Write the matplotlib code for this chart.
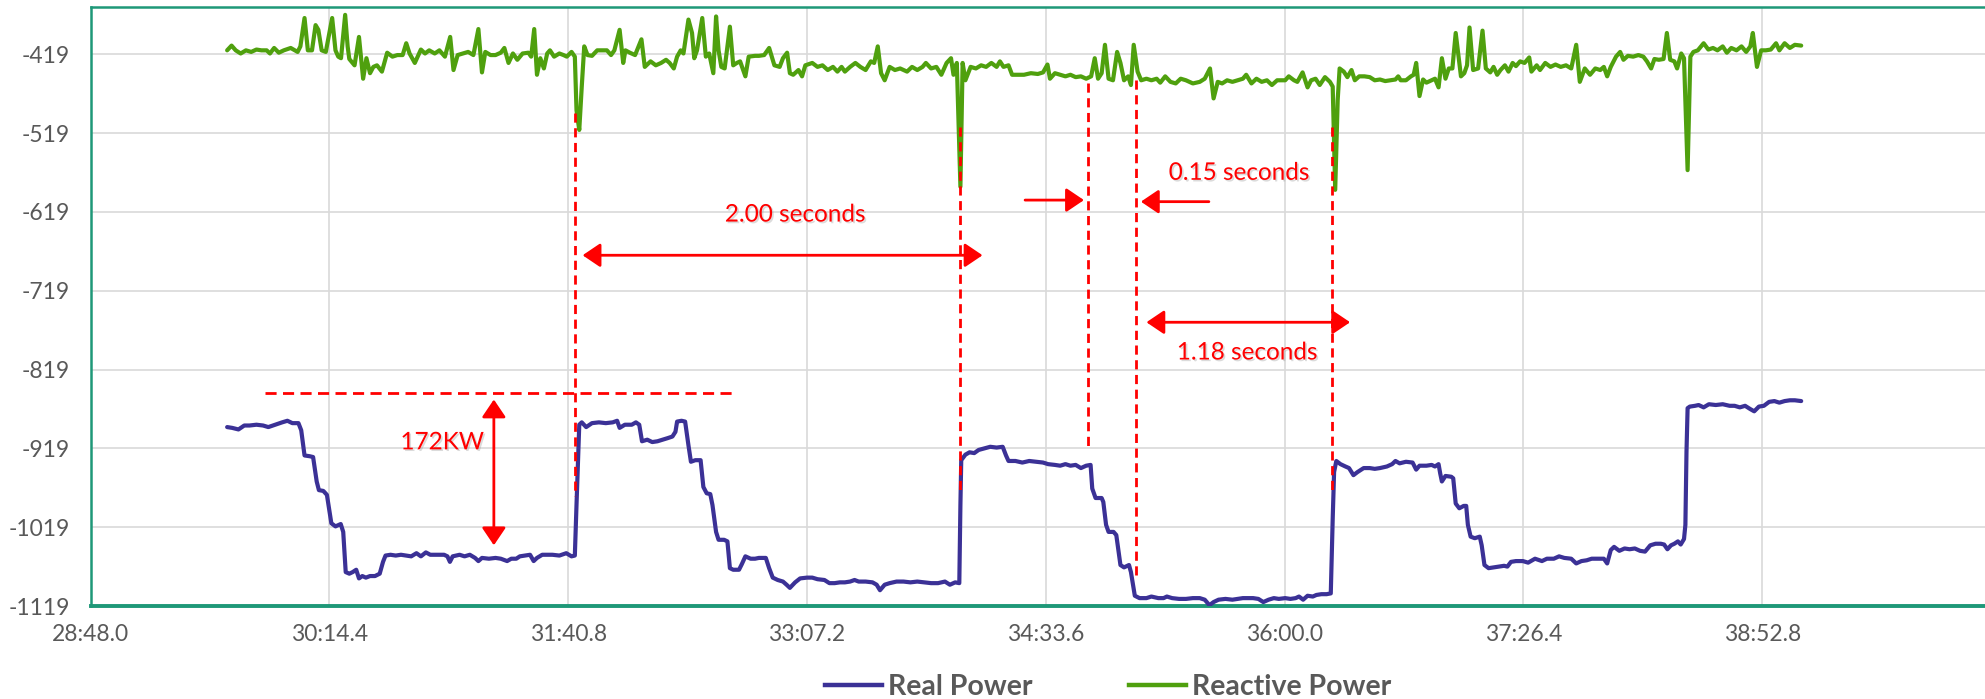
import matplotlib.pyplot as plt
import matplotlib.patheffects as pe
from matplotlib.lines import Line2D

plt.rcParams['font.family'] = ['Lato', 'DejaVu Sans']

# time in seconds (28:48.0 = 1728 s), power in kW / kVAr
real_power = [
    (1777.4, -892), (1779.2, -893), (1781.5, -895), (1783.6, -890), (1785.5, -890), (1788.0, -889), (1790.4, -890), (1792.3, -892), (1794.8, -889), (1797.3, -886),
    (1799.2, -884), (1801.0, -887), (1803.2, -887), (1804.2, -896), (1805.4, -928), (1807.3, -929), (1808.5, -930), (1809.8, -961), (1810.6, -972), (1812.2, -973),
    (1813.5, -978), (1815.1, -1014), (1816.6, -1018), (1818.5, -1015), (1819.4, -1025), (1820.3, -1076), (1821.6, -1078), (1822.8, -1076), (1824.1, -1073), (1825.1, -1084),
    (1826.3, -1081), (1827.6, -1083), (1829.1, -1081), (1830.9, -1081), (1832.6, -1078), (1833.8, -1063), (1834.7, -1055), (1836.5, -1054), (1838.4, -1055), (1840.3, -1054),
    (1842.2, -1055), (1844.0, -1056), (1845.9, -1052), (1847.5, -1056), (1849.3, -1051), (1850.9, -1054), (1853.4, -1054), (1855.9, -1054), (1857.1, -1056), (1858.0, -1063),
    (1859.0, -1056), (1861.5, -1054), (1863.3, -1056), (1865.2, -1054), (1867.1, -1058), (1868.3, -1062), (1869.6, -1058), (1872.1, -1059), (1874.5, -1058), (1876.4, -1059),
    (1878.7, -1062), (1880.2, -1059), (1882.0, -1059), (1883.3, -1056), (1885.1, -1055), (1887.0, -1054), (1888.3, -1062), (1889.5, -1058), (1891.4, -1054), (1893.2, -1054),
    (1895.1, -1054), (1897.6, -1055), (1900.1, -1052), (1902.0, -1056), (1903.2, -1055), (1903.8, -991), (1904.8, -889), (1905.7, -886), (1907.3, -892), (1909.4, -887),
    (1911.9, -886), (1914.4, -887), (1916.9, -886), (1918.5, -884), (1919.4, -893), (1921.3, -889), (1923.8, -889), (1925.3, -886), (1926.5, -889), (1927.5, -910),
    (1929.4, -908), (1931.2, -911), (1933.1, -910), (1935.0, -908), (1936.8, -906), (1938.5, -904), (1939.6, -898), (1940.2, -885), (1941.8, -884), (1943.1, -885),
    (1944.3, -915), (1945.2, -936), (1946.8, -934), (1948.7, -934), (1949.7, -968), (1950.9, -976), (1952.2, -977), (1953.0, -991), (1954.3, -1025), (1955.2, -1035),
    (1957.2, -1035), (1958.4, -1037), (1959.3, -1071), (1960.5, -1073), (1962.6, -1073), (1963.6, -1066), (1964.9, -1056), (1966.8, -1059), (1968.4, -1059),
    (1969.8, -1058), (1972.3, -1058), (1973.5, -1071), (1974.8, -1083), (1976.6, -1086), (1978.5, -1088), (1979.8, -1092), (1981.0, -1096), (1982.9, -1089), (1984.7, -1084),
    (1987.2, -1083), (1989.1, -1083), (1991.0, -1085), (1993.5, -1086), (1995.3, -1090), (1997.2, -1090), (1999.1, -1089), (2000.9, -1089), (2002.8, -1088), (2004.4, -1086),
    (2005.9, -1088), (2008.4, -1088), (2010.9, -1089), (2012.4, -1092), (2013.6, -1099), (2015.3, -1092), (2017.1, -1090), (2019.6, -1088), (2022.1, -1088), (2024.6, -1089),
    (2027.1, -1088), (2029.6, -1089), (2032.1, -1090), (2034.6, -1090), (2037.1, -1088), (2038.9, -1092), (2040.8, -1089), (2042.3, -1090), (2042.7, -991), (2043.0, -934),
    (2044.5, -927), (2046.0, -924), (2047.7, -925), (2049.3, -921), (2051.4, -919), (2053.5, -917), (2055.8, -918), (2058.0, -917), (2059.2, -928), (2060.1, -935),
    (2062.6, -935), (2065.1, -937), (2067.6, -935), (2070.1, -936), (2072.6, -937), (2074.4, -939), (2076.9, -940), (2078.8, -941), (2080.7, -939), (2082.5, -941),
    (2084.4, -940), (2086.3, -944), (2088.2, -941), (2089.8, -940), (2090.4, -970), (2091.6, -982), (2093.8, -982), (2094.4, -987), (2095.4, -1016), (2096.3, -1025),
    (2098.1, -1025), (2099.1, -1029), (2100.6, -1067), (2101.9, -1070), (2103.7, -1067), (2104.4, -1076), (2105.8, -1106), (2107.5, -1109), (2110.0, -1109), (2111.8, -1107),
    (2114.3, -1109), (2116.2, -1109), (2117.4, -1107), (2119.3, -1109), (2121.8, -1110), (2124.3, -1110), (2126.8, -1109), (2129.3, -1109), (2131.1, -1111), (2132.8, -1118),
    (2134.3, -1114), (2136.1, -1111), (2138.6, -1110), (2141.1, -1111), (2143.0, -1110), (2144.9, -1109), (2146.7, -1109), (2148.6, -1109), (2150.5, -1110), (2152.3, -1114),
    (2154.2, -1111), (2156.1, -1109), (2157.9, -1110), (2160.2, -1109),
    (2162.1, -1110), (2164.0, -1109), (2165.2, -1107), (2166.7, -1111), (2168.3, -1106), (2170.2, -1107), (2171.5, -1105), (2173.3, -1104), (2175.2, -1104), (2176.7, -1103),
    (2177.4, -1008), (2177.9, -949), (2178.7, -935), (2180.2, -939), (2182.0, -942), (2183.3, -944), (2184.9, -953), (2186.4, -949), (2188.6, -944), (2190.8, -944),
    (2192.6, -945), (2194.5, -944), (2197.0, -942), (2198.9, -939), (2200.1, -935), (2201.6, -938), (2203.9, -936), (2206.3, -937), (2207.6, -946), (2208.8, -941),
    (2211.3, -941), (2213.2, -940), (2214.4, -942), (2215.7, -939), (2216.3, -951), (2216.9, -961), (2218.2, -954), (2220.3, -955), (2221.0, -957), (2221.9, -989),
    (2223.2, -995), (2224.8, -992), (2225.7, -992), (2226.3, -1016), (2227.3, -1031), (2228.8, -1033), (2230.6, -1031), (2231.3, -1042), (2232.3, -1067), (2233.8, -1071),
    (2235.6, -1070), (2237.5, -1069), (2239.4, -1068), (2240.6, -1069), (2241.9, -1063), (2243.7, -1062), (2246.2, -1062), (2248.1, -1064), (2250.6, -1059), (2253.1, -1062),
    (2254.9, -1059), (2257.4, -1059), (2259.3, -1056), (2261.2, -1058), (2263.7, -1059), (2265.5, -1065), (2267.4, -1062), (2269.3, -1061), (2271.1, -1059), (2273.6, -1059),
    (2275.5, -1059), (2276.7, -1065), (2278.0, -1048), (2279.2, -1044), (2281.1, -1049), (2283.0, -1046), (2284.8, -1047), (2286.7, -1046), (2288.6, -1049), (2290.4, -1050),
    (2292.3, -1042), (2294.2, -1040), (2296.1, -1040), (2297.3, -1041), (2298.5, -1047), (2299.8, -1042), (2301.0, -1040), (2302.3, -1037), (2303.3, -1041), (2304.5, -1034),
    (2305.0, -1016), (2305.4, -923), (2305.8, -868), (2306.6, -866), (2308.5, -865), (2309.8, -864), (2311.6, -867), (2313.5, -863), (2316.0, -864), (2318.5, -863),
    (2321.0, -865), (2322.8, -865), (2324.7, -867), (2326.6, -865), (2328.4, -869), (2329.9, -872), (2331.6, -866), (2333.4, -865), (2335.3, -860), (2337.2, -859),
    (2339.0, -861), (2340.9, -859), (2342.8, -858), (2344.6, -858), (2346.9, -859),
]

reactive_power = [
    (1777.4, -414), (1779.0, -408), (1780.5, -414), (1782.3, -418), (1784.2, -414), (1786.1, -416), (1788.0, -413), (1789.8, -414), (1791.7, -414), (1792.9, -418),
    (1794.4, -411), (1796.1, -417), (1797.9, -414), (1800.4, -411), (1802.9, -416), (1803.9, -409), (1805.4, -373), (1806.6, -414), (1808.1, -414), (1809.4, -382),
    (1810.4, -388), (1811.6, -414), (1813.1, -416), (1815.4, -373), (1816.6, -414), (1817.6, -422), (1818.6, -424), (1820.1, -369), (1821.0, -409), (1821.6, -425),
    (1823.5, -433), (1825.1, -397), (1826.6, -450), (1827.8, -424), (1829.1, -443), (1830.3, -435), (1831.6, -433), (1833.4, -441), (1835.3, -417), (1837.2, -422),
    (1839.0, -420), (1840.9, -420), (1842.2, -405), (1843.4, -418), (1845.3, -430), (1847.5, -413), (1849.0, -418), (1850.5, -414), (1852.5, -418), (1854.2, -414),
    (1856.2, -422), (1858.1, -397), (1859.3, -439), (1860.8, -420), (1862.7, -418), (1864.6, -416), (1866.5, -420), (1868.3, -387), (1869.6, -442), (1870.8, -416),
    (1872.7, -420), (1874.5, -420), (1876.4, -417), (1877.7, -411), (1879.2, -430), (1880.8, -418), (1882.4, -426), (1884.3, -418), (1886.4, -417), (1887.4, -422),
    (1888.5, -387), (1889.5, -445), (1890.7, -424), (1892.0, -437), (1893.2, -418), (1894.2, -414), (1895.7, -422), (1897.6, -418), (1899.1, -420), (1900.3, -422),
    (1902.0, -416), (1903.2, -422), (1903.8, -490), (1904.8, -515), (1905.7, -460), (1906.6, -409), (1907.8, -420), (1909.4, -421), (1911.3, -414), (1913.2, -414),
    (1914.8, -414), (1916.3, -420), (1917.5, -414), (1919.4, -388), (1920.7, -430), (1921.5, -414), (1923.1, -417), (1925.0, -420), (1927.3, -400), (1928.5, -435),
    (1930.6, -428), (1932.5, -433), (1934.4, -430), (1936.2, -426), (1937.5, -430), (1939.0, -437), (1940.2, -422), (1941.5, -414), (1942.5, -418), (1944.3, -375),
    (1945.6, -392), (1946.4, -424), (1947.4, -414), (1949.3, -373), (1950.6, -422), (1951.8, -418), (1953.3, -443), (1954.3, -371), (1955.2, -414), (1956.2, -435),
    (1957.4, -437), (1959.3, -384), (1960.5, -433), (1961.8, -430), (1963.0, -428), (1964.9, -447), (1966.1, -422), (1968.4, -421),
    (1969.8, -421), (1971.7, -420), (1973.5, -411), (1975.4, -433), (1977.3, -435), (1978.5, -424), (1980.0, -417), (1981.0, -443), (1982.2, -445), (1984.1, -439),
    (1985.4, -447), (1986.6, -433), (1989.1, -430), (1991.0, -435), (1992.8, -433), (1994.7, -439), (1996.6, -435), (1998.2, -441), (1999.7, -435), (2000.9, -441),
    (2002.8, -435), (2004.7, -430), (2006.5, -435), (2008.4, -439), (2010.3, -428), (2011.5, -430), (2012.8, -409), (2014.0, -443), (2015.3, -452), (2017.1, -435),
    (2019.0, -439), (2020.9, -437), (2023.4, -441), (2025.2, -435), (2027.1, -439), (2029.0, -435), (2030.2, -430), (2032.1, -437), (2034.0, -435), (2035.8, -445),
    (2037.7, -430), (2039.3, -424), (2040.2, -445), (2041.4, -430), (2042.7, -587), (2043.5, -430), (2044.5, -452), (2046.4, -435), (2048.3, -437), (2050.2, -433),
    (2052.0, -435), (2053.9, -430), (2055.8, -435), (2057.0, -428), (2058.3, -435), (2060.1, -433), (2061.4, -445), (2063.2, -445), (2065.7, -445), (2068.2, -443),
    (2070.7, -444), (2072.6, -442), (2074.2, -432), (2075.1, -450), (2076.9, -443), (2078.8, -445), (2080.7, -447), (2082.5, -445), (2084.4, -448), (2086.3, -447),
    (2088.2, -450), (2090.0, -447), (2091.3, -424), (2092.5, -450), (2093.8, -443), (2095.0, -407), (2096.3, -450), (2097.9, -452), (2099.4, -416), (2100.6, -430),
    (2101.9, -452), (2103.4, -447), (2104.4, -458), (2105.4, -407), (2106.8, -441), (2108.1, -452), (2110.0, -450), (2111.8, -452), (2113.7, -450), (2115.0, -455),
    (2116.8, -447), (2118.7, -454), (2120.6, -456), (2122.4, -450), (2124.3, -452), (2126.8, -456), (2129.3, -454), (2131.1, -450), (2133.0, -437), (2134.3, -475),
    (2135.8, -454), (2137.4, -456), (2139.2, -452), (2141.1, -454), (2143.0, -452), (2144.9, -450), (2146.1, -445), (2148.0, -456), (2149.8, -450), (2151.7, -454),
    (2153.6, -452), (2155.4, -458), (2157.3, -452), (2159.2, -452),
    (2160.2, -452), (2161.5, -447), (2163.4, -452), (2164.6, -454), (2166.5, -442), (2168.3, -461), (2169.6, -452), (2171.2, -450), (2172.7, -458), (2174.6, -448),
    (2176.4, -454), (2177.4, -460), (2178.3, -591), (2179.2, -477), (2179.9, -437), (2181.4, -441), (2182.7, -448), (2184.2, -439), (2185.4, -452), (2187.0, -447),
    (2188.9, -447), (2190.8, -448), (2192.6, -452), (2194.5, -451), (2196.4, -453), (2198.2, -452), (2200.1, -451), (2201.1, -447), (2202.0, -452), (2203.9, -452),
    (2205.7, -447), (2206.7, -445), (2207.6, -430), (2208.8, -472), (2210.1, -451), (2211.3, -455), (2213.2, -452), (2214.4, -450), (2215.7, -461), (2216.9, -424),
    (2218.2, -450), (2219.4, -437), (2220.7, -437), (2221.9, -392), (2223.8, -447), (2225.0, -443), (2226.0, -433), (2226.9, -385), (2228.2, -439), (2230.0, -437),
    (2231.6, -389), (2232.8, -437), (2234.4, -442), (2235.6, -435), (2236.9, -445), (2238.1, -439), (2239.7, -433), (2241.0, -441), (2242.5, -430), (2243.7, -434),
    (2245.2, -428), (2246.8, -430), (2248.5, -423), (2249.3, -441), (2251.2, -433), (2252.4, -439), (2254.3, -430), (2256.2, -435), (2258.0, -432), (2259.9, -435),
    (2261.8, -433), (2263.7, -437), (2265.5, -407), (2266.8, -454), (2268.6, -437), (2270.5, -445), (2272.4, -437), (2274.2, -439), (2275.5, -435), (2276.7, -447),
    (2278.0, -435), (2279.9, -422), (2281.4, -416), (2282.6, -426), (2284.2, -421), (2286.1, -422), (2288.0, -420), (2289.8, -422), (2291.1, -428), (2292.6, -437),
    (2293.8, -425), (2295.4, -426), (2297.1, -425), (2298.3, -392), (2299.5, -426), (2301.0, -428), (2302.0, -437), (2303.5, -418), (2304.5, -424), (2305.8, -566),
    (2306.8, -422), (2307.9, -416), (2309.5, -414), (2311.6, -405), (2313.3, -413), (2315.0, -411), (2316.6, -414), (2318.5, -409), (2320.0, -417), (2321.6, -411),
    (2323.5, -414), (2325.3, -409), (2327.0, -416), (2328.5, -409), (2329.4, -392), (2330.9, -435), (2332.4, -414), (2334.1, -414), (2335.9, -413), (2337.8, -405),
    (2339.0, -414), (2340.9, -405), (2342.8, -411), (2344.6, -407), (2346.9, -408),
]

x_ticks = [1728.0, 1814.4, 1900.8, 1987.2, 2073.6, 2160.0, 2246.4, 2332.8]
x_tick_labels = ['28:48.0', '30:14.4', '31:40.8', '33:07.2', '34:33.6', '36:00.0', '37:26.4', '38:52.8']
y_ticks = [-1119, -1019, -919, -819, -719, -619, -519, -419]

# annotation values: (time, top, bottom) of the dashed event markers
event_lines = [(1903.2, -493, -980), (2042.6, -511, -973), (2088.7, -456, -919),
               (2106.4, -452, -1082), (2177.3, -511, -974)]
step_level = -849          # horizontal dashed reference
step_span = (1791.1, 1960.3)
step_arrow = (1873.9, -857, -1042)

blue = '#3B3196'
green = '#4FA00E'
red = '#FF0000'
teal = '#1E9878'
grey_text = '#595959'

fig = plt.figure(figsize=(19.85, 6.99), dpi=100)
ax = fig.add_axes([90.6 / 1985, 93 / 699, 1 - 90.6 / 1985, (606 - 7.3) / 699])

rt, rv = zip(*real_power)
qt, qv = zip(*reactive_power)
ax.plot(rt, rv, color=blue, lw=3.0, solid_joinstyle='round', solid_capstyle='round', zorder=3)
ax.plot(qt, qv, color=green, lw=3.0, solid_joinstyle='round', solid_capstyle='round', zorder=3)

ax.set_xlim(1728, 2413.4)
ax.set_ylim(-1119, -359.4)
ax.set_xticks(x_ticks, x_tick_labels)
ax.set_yticks(y_ticks, [str(v) for v in y_ticks])
ax.tick_params(length=0, labelsize=16.5, labelcolor=grey_text)
ax.tick_params(axis='y', pad=15)
ax.tick_params(axis='x', pad=13)
ax.grid(True, color='#D9D9D9', lw=1.2)
ax.set_axisbelow(True)
for side in ['top', 'left']:
    ax.spines[side].set_color(teal)
    ax.spines[side].set_linewidth(1.8)
ax.spines['bottom'].set_color(teal)
ax.spines['bottom'].set_linewidth(2.8)
ax.spines['right'].set_visible(False)

# annotations
dash = (0, (3.3, 2.0))
for t, top, bot in event_lines:
    ax.plot([t, t], [top, bot], color=red, lw=2.0, ls=dash, zorder=5)
ax.plot(step_span, [step_level, step_level], color=red, lw=2.0, ls=(0, (4, 2.3)), zorder=5)

def arrow(x0, y0, x1, y1, style):
    ax.annotate('', xy=(x1, y1), xytext=(x0, y0),
                arrowprops=dict(arrowstyle=style + ',head_length=0.4,head_width=0.27',
                                color=red, lw=2.0, shrinkA=0, shrinkB=0,
                                mutation_scale=27), zorder=6)

arrow(step_arrow[0], step_arrow[1], step_arrow[0], step_arrow[2], '<|-|>')
arrow(1906.0, -674, 2050.7, -674, '<|-|>')
arrow(2066.1, -604, 2087.4, -604, '-|>')
arrow(2132.6, -606, 2108.0, -606, '-|>')
arrow(2110.0, -759, 2183.7, -759, '<|-|>')

shadow = [pe.SimplePatchShadow(offset=(1.2, -1.2), shadow_rgbFace='#999999', alpha=0.35), pe.Normal()]
labels = [(1855.2, -912, '172KW'), (1982.9, -623, '2.00 seconds'),
          (2143.5, -570, '0.15 seconds'), (2146.4, -798, '1.18 seconds')]
for t, v, s in labels:
    ax.text(t, v, s, color=red, fontsize=17.5, ha='center', va='center',
            path_effects=shadow, zorder=6)

handles = [Line2D([], [], color=blue, lw=3.2), Line2D([], [], color=green, lw=3.2)]
fig.legend(handles, ['Real Power', 'Reactive Power'], loc='center',
           bbox_to_anchor=(1108 / 1985, 1 - 687 / 699), ncol=2, frameon=False,
           prop={'weight': 'bold', 'size': 20.5}, labelcolor=grey_text,
           handlelength=2.0, handletextpad=0.2, columnspacing=3.4)

fig.savefig('out.png', dpi=100)
